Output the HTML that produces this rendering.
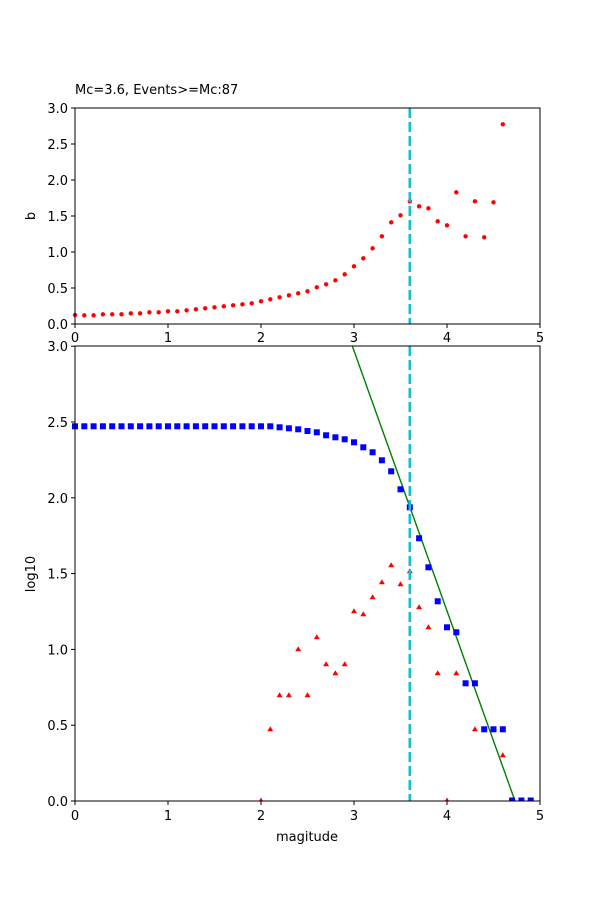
<!DOCTYPE html>
<html><head><meta charset="utf-8"><style>
html,body{margin:0;padding:0;background:#fff;}
svg{display:block;font-family:"DejaVu Sans","Liberation Sans",sans-serif;}
</style></head><body>
<svg id="s" width="600" height="900" viewBox="0 0 600 900" xmlns="http://www.w3.org/2000/svg">
<rect width="600" height="900" fill="#fff"/>
<text x="75" y="94" font-size="13">Mc=3.6, Events&gt;=Mc:87</text>
<g id="gtop"></g>
<g id="gbot"></g>
</svg>
<script>
(function(){
const NS="http://www.w3.org/2000/svg";
function el(p,t,a,txt){const e=document.createElementNS(NS,t);for(const k in a)e.setAttribute(k,a[k]);if(txt!==undefined)e.textContent=txt;p.appendChild(e);return e;}
const gt=document.getElementById('gtop'),gb=document.getElementById('gbot');
const X=m=>75+93*m;
const tY=[315,315.3,315.3,314.3,314.3,314.3,313.3,313.3,312.3,312.3,311.3,311.3,310.3,309.3,308.3,307.3,306.3,305.3,304.3,303.3,301.3,299.3,297.3,295.3,293.3,291.3,287.3,284.3,280.3,274.3,266.3,258.3,248.3,236.3,222.3,215.3,201.3,206.3,208.3,221.3,225.3,192.3,236.3,201.3,237.3,202.3,124.3];
tY.forEach((y,i)=>el(gt,'circle',{cx:X(i/10),cy:y,r:2.2,fill:'#ff0000'}));
el(gt,'line',{x1:X(3.6),y1:108,x2:X(3.6),y2:324,stroke:'#17becf',"stroke-width":2.6,"stroke-dasharray":"10,4"});
el(gt,'rect',{x:75,y:108,width:465,height:216,fill:'none',stroke:'#000','stroke-width':1});
for(let i=0;i<=6;i++){const y=324-36*i;el(gt,'line',{x1:71,y1:y,x2:75,y2:y,stroke:'#000'});el(gt,'text',{x:68,y:y+5,'font-size':13,'text-anchor':'end'},(i*0.5).toFixed(1));}
for(let i=0;i<=5;i++){const x=X(i);el(gt,'line',{x1:x,y1:324,x2:x,y2:328,stroke:'#000'});el(gt,'text',{x:x,y:342,'font-size':13,'text-anchor':'middle'},String(i));}
el(gt,'text',{x:35,y:216,'font-size':13,'text-anchor':'middle',transform:'rotate(-90 35 216)'},'b');
const bY=[];for(let i=0;i<=21;i++)bY.push(426.3);
bY.push(427.3,428.3,429.3,431,432.3,435.3,437.3,439.3,442.3,447.3,452.3,460.3,471.3,489.3,507.3,538.3,567.3,601.3,627.3,632.3,683.3,683.3,729.3,729.3,729.3,800.5,800.5,800.5);
const tri={"2.0":800.5,"2.1":729.3,"2.2":695.3,"2.3":695.3,"2.4":649.3,"2.5":695.3,"2.6":637.3,"2.7":664.3,"2.8":673.3,"2.9":664.3,"3.0":611.3,"3.1":614.3,"3.2":597.3,"3.3":582.3,"3.4":565.3,"3.5":584.3,"3.6":571.3,"3.7":607.3,"3.8":627.3,"3.9":673.3,"4.0":800.5,"4.1":673.3,"4.3":729.3,"4.6":755.3};
for(const k in tri){const x=X(+k),y=tri[k];el(gb,'polygon',{points:`${x-3},${y+2} ${x+3},${y+2} ${x},${y-3}`,fill:'#ff0000'});}
el(gb,'line',{x1:352.3,y1:346,x2:515,y2:801,stroke:'#008000','stroke-width':1.4});
bY.forEach((y,i)=>el(gb,'rect',{x:X(i/10)-3,y:y-3,width:6,height:6,fill:'#0000ff'}));
el(gb,'line',{x1:X(3.6),y1:346,x2:X(3.6),y2:801,stroke:'#17becf',"stroke-width":2.6,"stroke-dasharray":"10,4"});
el(gb,'rect',{x:0,y:801.5,width:600,height:10,fill:'#fff'});
el(gb,'rect',{x:75,y:346,width:465,height:455,fill:'none',stroke:'#000','stroke-width':1});
for(let i=0;i<=6;i++){const y=801-75.8*i;el(gb,'line',{x1:71,y1:y,x2:75,y2:y,stroke:'#000'});el(gb,'text',{x:68,y:y+5,'font-size':13,'text-anchor':'end'},(i*0.5).toFixed(1));}
for(let i=0;i<=5;i++){const x=X(i);el(gb,'line',{x1:x,y1:801,x2:x,y2:805,stroke:'#000'});el(gb,'text',{x:x,y:820,'font-size':13,'text-anchor':'middle'},String(i));}
el(gb,'text',{x:307,y:841,'font-size':13,'text-anchor':'middle'},'magitude');
el(gb,'text',{x:35,y:574,'font-size':13,'text-anchor':'middle',transform:'rotate(-90 35 574)'},'log10');
})();
</script>
</body></html>
